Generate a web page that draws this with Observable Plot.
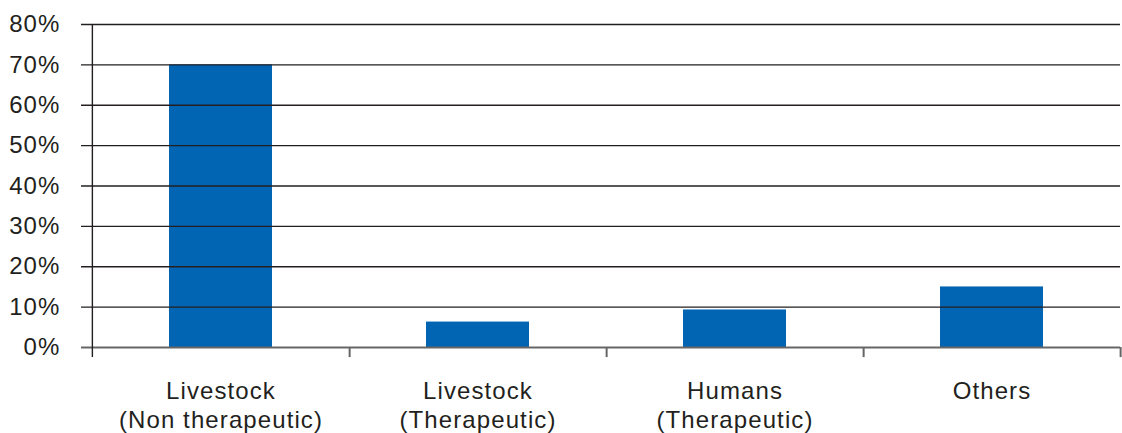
<!DOCTYPE html>
<html><head><meta charset="utf-8">
<script src="https://cdn.jsdelivr.net/npm/d3@7"></script>
<script src="https://cdn.jsdelivr.net/npm/@observablehq/plot@0.6"></script>
<style>body{margin:0;background:#fff}</style>
</head><body><div id="chart"></div>
<script>
const categories = ["Livestock (Non therapeutic)", "Livestock (Therapeutic)", "Humans (Therapeutic)", "Others"];
const categoryLabels = ["Livestock\n(Non therapeutic)", "Livestock\n(Therapeutic)", "Humans\n(Therapeutic)", "Others"];
const values = [0.70, 0.063, 0.093, 0.15];
const yTicks = [0, 0.1, 0.2, 0.3, 0.4, 0.5, 0.6, 0.7, 0.8];

const data = categories.map((c, i) => ({cat: c, label: categoryLabels[i], value: values[i]}));

const W = 1122, H = 433, ML = 91, MR = 2, MT = 24, MB = 86;
const step = (W - ML - MR) / categories.length;

const chart = Plot.plot({
  width: W, height: H,
  marginLeft: ML, marginRight: MR, marginTop: MT, marginBottom: MB,
  style: {fontFamily: "'Liberation Sans', Arial, sans-serif", fontSize: "24px", color: "#231f20", background: "#fff", letterSpacing: "1.1px"},
  x: {domain: categories, paddingInner: 0.6, paddingOuter: 0.3, axis: null},
  y: {domain: [0, 0.8], axis: null},
  marks: [
    Plot.barY(data, {x: "cat", y: "value", fill: "#0265B4"}),
    Plot.ruleY(yTicks.filter(t => t > 0), {stroke: "#231f20", strokeWidth: 1.4, insetLeft: -10}),
    Plot.ruleY([0], {stroke: "#666", strokeWidth: 2, insetLeft: -10}),
    Plot.ruleX(categories, {x: d => d, dx: step / 2, y1: 0, y2: -0.025, stroke: "#666", strokeWidth: 2}),
    Plot.ruleX([categories[0]], {x: d => d, dx: -step / 2, y1: -0.025, y2: 0.8, stroke: "#231f20", strokeWidth: 1.4}),
    Plot.axisY(yTicks, {tickSize: 0, tickPadding: 31, label: null, tickFormat: d => Math.round(d * 100) + "%", fontSize: 24, fill: "#231f20"}),
    Plot.text(data, {x: "cat", y: 0, text: "label", lineAnchor: "top", dy: 31, lineHeight: 1.2, fontSize: 24, fill: "#231f20"})
  ]
});
document.getElementById("chart").append(chart);
</script>
</body></html>
